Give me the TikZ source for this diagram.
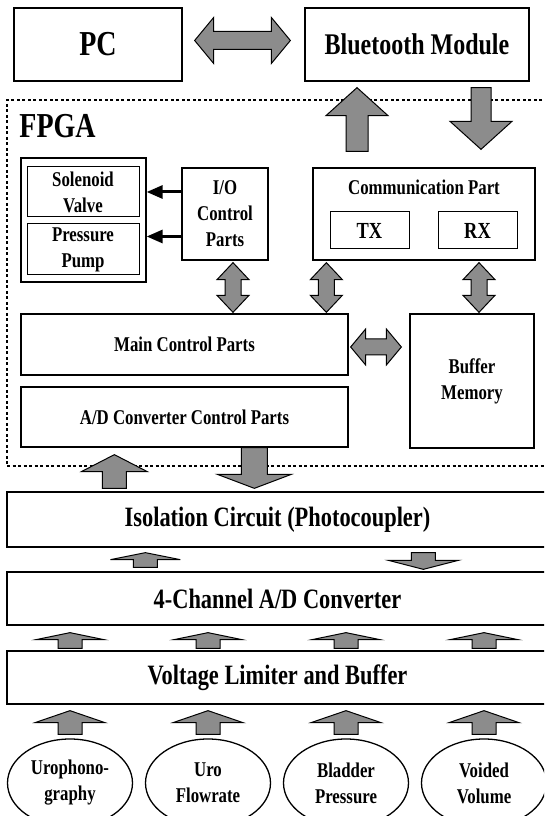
\documentclass[tikz,border=0pt]{standalone}
\usepackage{fontspec}
\setmainfont{Liberation Serif}[FakeStretch=0.8]
\usetikzlibrary{calc,shapes.geometric,arrows.meta}

\newcommand{\txtS}{\fontsize{21}{26}\selectfont\bfseries}
\newcommand{\txtT}{\fontsize{23}{26}\selectfont\bfseries}
\newcommand{\txtM}{\fontsize{28}{32}\selectfont\bfseries}
\newcommand{\txtB}{\fontsize{30}{34}\selectfont\bfseries}
\newcommand{\txtH}{\fontsize{35}{40}\selectfont\bfseries}

\tikzset{
  box/.style={draw,line width=1.3pt,inner sep=0pt,align=center,font=\txtS},
  bigbox/.style={box,font=\txtM},
  sensor/.style={ellipse,draw,line width=1.3pt,inner sep=0pt,align=center,
    minimum width=125pt,minimum height=88pt,font=\txtS},
  fpgabox/.style={draw,line width=1.6pt,dash pattern=on 3pt off 2.5pt,inner sep=0pt},
  blockarrow/.style={draw,line width=1pt,fill=black!45,line join=miter},
  ioline/.style={line width=3pt,-{Triangle[length=16pt,width=13pt]}}
}

% fat arrow: tail, tip, half shaft, half head, head length
\newcommand{\fatarrow}[5]{%
  \path (#1) coordinate (fa-a) (#2) coordinate (fa-b)
    ($(#2)!#5!(#1)$) coordinate (fa-c);
  \draw[blockarrow] ($(fa-a)!#3!90:(fa-b)$) -- ($(fa-c)!#3!90:(fa-b)$)
    -- ($(fa-c)!#4!90:(fa-b)$) -- (fa-b) -- ($(fa-c)!#4!-90:(fa-b)$)
    -- ($(fa-c)!#3!-90:(fa-b)$) -- ($(fa-a)!#3!-90:(fa-b)$) -- cycle;}
% fat double arrow
\newcommand{\fatboth}[5]{%
  \path (#1) coordinate (fa-a) (#2) coordinate (fa-b)
    ($(#1)!#5!(#2)$) coordinate (fa-c) ($(#2)!#5!(#1)$) coordinate (fa-d);
  \draw[blockarrow] (fa-a) -- ($(fa-c)!#4!90:(fa-b)$) -- ($(fa-c)!#3!90:(fa-b)$)
    -- ($(fa-d)!#3!90:(fa-b)$) -- ($(fa-d)!#4!90:(fa-b)$) -- (fa-b)
    -- ($(fa-d)!#4!-90:(fa-b)$) -- ($(fa-d)!#3!-90:(fa-b)$)
    -- ($(fa-c)!#3!-90:(fa-b)$) -- ($(fa-c)!#4!-90:(fa-b)$) -- cycle;}

\begin{document}
\begin{tikzpicture}[x=1pt,y=1pt]
\useasboundingbox (0,0) rectangle (544,816);
\clip (0,0) rectangle (544,816);

% top row
\node[box,font=\txtH,minimum width=168pt,minimum height=73pt] (pc) at (98,771.5) {PC};
\node[box,font=\txtB,minimum width=224pt,minimum height=73pt] (bt) at (417,771.5) {Bluetooth Module};

% FPGA
\node[fpgabox,minimum width=541pt,minimum height=366pt] (fpga) at (277.5,533) {};
\node[anchor=north west,inner sep=0pt,font=\txtH] (fpgatxt) at ($(fpga.north west)+(13,-15)$) {FPGA};

\node[box,minimum width=125pt,minimum height=124pt] (actu) at (83.5,596) {};
\node[box,line width=1pt,minimum width=112pt,minimum height=50pt] (sol) at (83,624) {Solenoid\\Valve};
\node[box,line width=1pt,minimum width=112pt,minimum height=51pt] (pump) at (83,566.5) {Pressure\\Pump};
\node[box,minimum width=86pt,minimum height=92pt] (io) at (225,602) {I/O\\Control\\Parts};

\node[box,minimum width=222pt,minimum height=92pt] (comm) at (424,602) {};
\node[font=\txtS,inner sep=0pt] (commtxt) at ($(comm.north)+(0,-20)$) {Communication Part};
\node[box,line width=1pt,font=\txtT,minimum width=79pt,minimum height=37pt] (tx) at (369.5,585.5) {TX};
\node[box,line width=1pt,font=\txtT,minimum width=79pt,minimum height=37pt] (rx) at (477.5,585.5) {RX};

\node[box,minimum width=327pt,minimum height=61pt] (main) at (184.5,471.5) {Main Control Parts};
\node[box,minimum width=327pt,minimum height=60pt] (adc) at (184.5,399) {A/D Converter Control Parts};
\node[box,minimum width=124pt,minimum height=134pt] (buf) at (472,435) {Buffer\\Memory};

% lower blocks
\node[bigbox,minimum width=541pt,minimum height=55pt] (iso) at (277.5,296.5) {Isolation Circuit (Photocoupler)};
\node[bigbox,minimum width=541pt,minimum height=53pt] (conv) at (277.5,217.5) {4-Channel A/D Converter};
\node[bigbox,minimum width=541pt,minimum height=53pt] (lim) at (277.5,138.5) {Voltage Limiter and Buffer};

\foreach \n/\xx/\txt in {1/70/{Urophono-\\graphy},2/208/{Uro\\Flowrate},
    3/346/{Bladder\\Pressure},4/484/{Voided\\Volume}}
  \node[sensor] (s\n) at (\xx,33) {\txt};

% connectors
\fatboth{$(pc.east)+(12,4)$}{$(bt.west)+(-14,4)$}{9pt}{23pt}{19pt}
\coordinate (b1) at ($(comm.north)+(-67,16)$);
\coordinate (b2) at ($(b1|-bt.south)+(0,-6)$);
\fatarrow{b1}{b2}{11pt}{31pt}{28pt}
\coordinate (c1) at ($(bt.south)+(64,-6)$);
\coordinate (c2) at ($(c1|-comm.north)+(0,18)$);
\fatarrow{c1}{c2}{10pt}{31pt}{28pt}

\draw[ioline] (io.west|-sol.east) -- (actu.east|-sol.east);
\draw[ioline] ($(io.west|-pump.east)+(0,13)$) -- ($(actu.east|-pump.east)+(0,13)$);

\coordinate (e1) at ($(io.south)+(8,-2)$);
\coordinate (e2) at ($(e1|-main.north)+(0,1)$);
\fatboth{e1}{e2}{8pt}{16pt}{17pt}
\coordinate (f1) at ($(comm.south west)+(14,-2)$);
\coordinate (f2) at ($(f1|-main.north)+(0,1)$);
\fatboth{f1}{f2}{8pt}{16pt}{17pt}
\coordinate (g1) at ($(comm.south)+(55,-2)$);
\coordinate (g2) at ($(g1|-buf.north)+(0,1)$);
\fatboth{g1}{g2}{8pt}{16pt}{17pt}
\coordinate (h1) at ($(main.east)+(2,-2.5)$);
\coordinate (h2) at ($(h1-|buf.west)+(-8,0)$);
\fatboth{h1}{h2}{8pt}{18pt}{15pt}

\coordinate (i1) at ($(iso.north west)+(108,3)$);
\coordinate (i2) at ($(i1|-adc.south)+(0,-7)$);
\fatarrow{i1}{i2}{12pt}{33pt}{17pt}
\coordinate (j1) at ($(adc.south west)+(234,0)$);
\coordinate (j2) at ($(j1|-iso.north)+(0,3)$);
\fatarrow{j1}{j2}{13pt}{37pt}{14pt}

\coordinate (k1) at ($(conv.north west)+(139,4)$);
\coordinate (k2) at ($(k1|-iso.south)+(0,-5)$);
\fatarrow{k1}{k2}{12pt}{35pt}{7pt}
\coordinate (l1) at ($(iso.south west)+(417,-5)$);
\coordinate (l2) at ($(l1|-conv.north)+(0,2)$);
\fatarrow{l1}{l2}{12pt}{35pt}{9pt}

\foreach \n in {1,...,4}{
  \coordinate (m1) at ($(s\n.north|-lim.north)+(0,2)$);
  \coordinate (m2) at ($(m1|-conv.south)+(0,-7)$);
  \fatarrow{m1}{m2}{12pt}{34pt}{7pt}
  \coordinate (n1) at ($(s\n.north)+(0,4)$);
  \coordinate (n2) at ($(n1|-lim.south)+(0,-6)$);
  \fatarrow{n1}{n2}{12pt}{35pt}{12pt}
}
\end{tikzpicture}
\end{document}
